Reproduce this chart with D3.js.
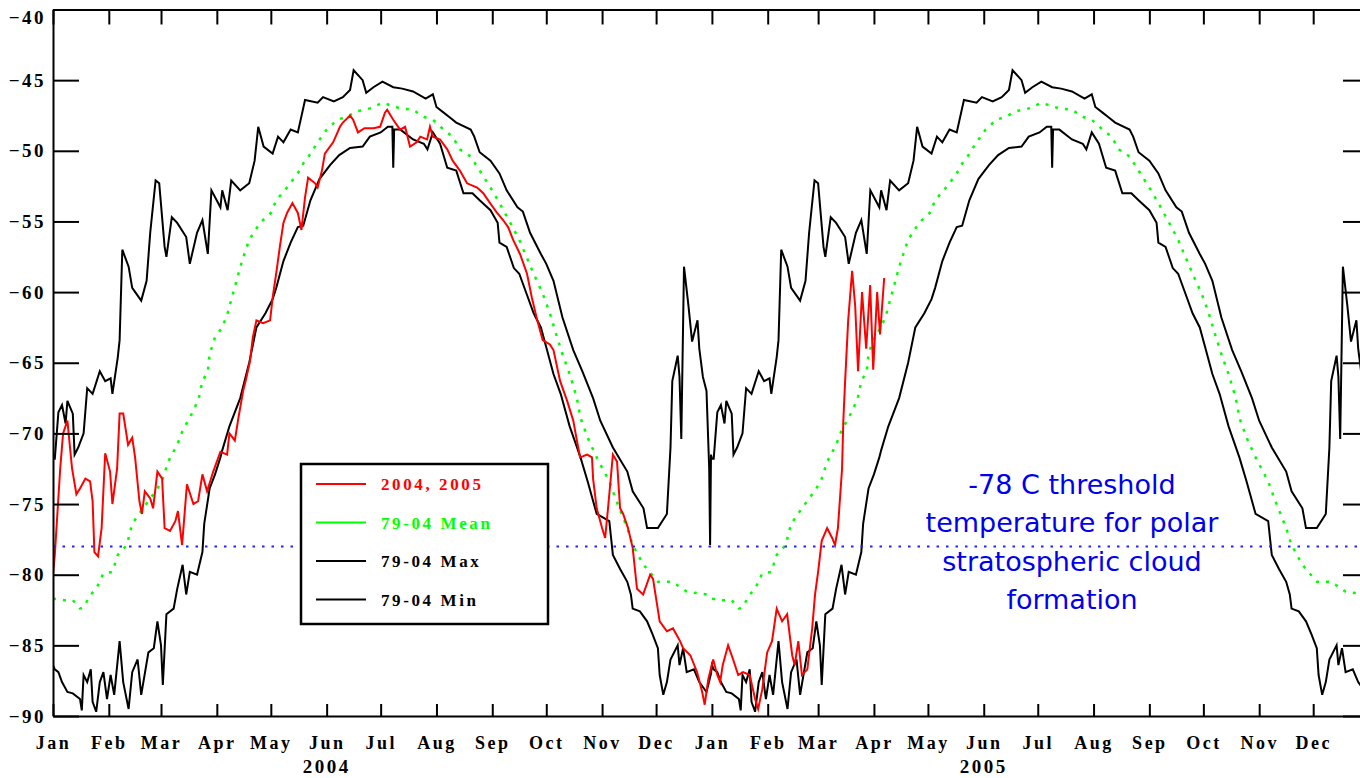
<!DOCTYPE html>
<html>
<head>
<meta charset="utf-8">
<script src="https://cdn.jsdelivr.net/npm/d3@7"></script>
<style>
body { margin: 0; background: #fff; }
svg { display: block; }
.serif { font-family: "Liberation Serif", "Times New Roman", serif; font-weight: bold; }
</style>
</head>
<body>
<svg id="chart" width="1360" height="778"></svg>
<script>
// 79-04 climatology, [day of year, deg C] (drawn once for each year)
var maxPts = [[0,-71.8],[1,-71.8],[3,-68.5],[5,-68],[7,-69.3],[8,-67.7],[11,-68.6],[12,-71.5],[14,-71],[17,-70],[19,-66.8],
  [22,-67.2],[26,-65.6],[29,-66.3],[32,-66.1],[33,-67.2],[36,-64.6],[37,-63.4],[38.5,-57],[42,-58.2],[44,-59.7],[49,-60.6],
  [52,-59.2],[54,-55.8],[57,-52.1],[59,-52.3],[62,-56.8],[63,-57.5],[66,-54.7],[69,-55.1],[74,-56.1],[76,-58],[80,-55.8],
  [83,-54.9],[86,-57.3],[88,-52.8],[93,-54],[94,-52.8],[97,-54.2],[99,-52.1],[104,-52.8],[109,-52.3],[112,-50.7],[114,-48.3],
  [117,-49.7],[122,-50.2],[125,-49],[128,-49.4],[132,-48.5],[136,-48.7],[140,-46.4],[147,-46.6],[150,-46.2],[156,-46.5],
  [161,-46.2],[165,-45.7],[167,-44.3],[172,-45],[174,-45.9],[178,-45.5],[183,-45.1],[189,-45.5],[194,-45.6],[200,-45.8],
  [207,-46.3],[211,-46],[213,-46.9],[217,-47.3],[221,-47.7],[224,-48],[232,-48.5],[234,-49],[237,-50.1],[243,-50.7],
  [248,-51.6],[252,-52.8],[258,-54],[261,-54.3],[265,-55.8],[271,-57.3],[274,-58],[278,-59.2],[283,-61.8],[289,-64.1],
  [294,-65.6],[300,-67.5],[304,-69.1],[311,-71],[319,-72.7],[322,-74.1],[328,-75.3],[330,-76.7],[336,-76.7],[341,-75.7],
  [343,-71],[344,-66.3],[347,-64.5],[348,-66],[349,-70.4],[350.5,-58.2],[353,-61],[355,-63.5],[358,-62],[359,-64],
  [361,-66],[363,-67],[364.5,-72.5],[365,-77.9],[365.5,-71.5]];

var minPts = [[0,-86.4],[1,-86.7],[3,-86.9],[5,-87.6],[8,-88.3],[11,-88.4],[15,-88.8],[16,-89.6],[17,-87.1],[19,-87.6],
  [21,-86.7],[22,-89],[24,-89.7],[26,-87.6],[28,-86.9],[30,-88.8],[32,-87.1],[34,-88.5],[37,-84.7],[39,-87.6],[42,-89.5],
  [44,-86.9],[47,-86],[49,-88.5],[53,-85.5],[56,-85.2],[58,-83.3],[60,-85],[61,-87.8],[63,-82.8],[67,-82.4],[69,-81],
  [72,-79.3],[74,-81.4],[76,-79.8],[80,-80],[83,-78.4],[84,-76.4],[87,-73.9],[90,-72.9],[93,-71.7],[94,-71.2],[98,-69.5],
  [104,-67.5],[109,-65],[113,-62.5],[118,-61.5],[122,-60.5],[124,-59.7],[128,-57.8],[132,-56.5],[136,-55.4],[139,-55.3],
  [143,-53.5],[148,-52],[154,-51],[159,-50.3],[165,-49.8],[172,-49.7],[176,-49],[182,-48.7],[186,-48.3],[188.5,-48.3],
  [189,-51.2],[189.5,-48.5],[193,-48.5],[200,-49.2],[206,-49.5],[208,-49.9],[211,-48.7],[215,-49.5],[219,-51.2],[224,-51.4],
  [228,-53],[233,-53],[237,-53.5],[243,-54.2],[247,-55.1],[248,-56.5],[252,-56.8],[256,-58.3],[259,-58.7],[263,-60.1],
  [267,-61.5],[271,-62.5],[274,-63.9],[278,-65.8],[282,-67.2],[287,-69.5],[293,-71.7],[297,-73.4],[302,-75.7],[309,-76.2],
  [311,-78.6],[315,-79.6],[319,-80.5],[321,-81.4],[322,-82.4],[326,-82.6],[330,-83.3],[333,-84.2],[336,-85.2],[337,-87.1],
  [339,-88.5],[341,-87.6],[343,-86],[347,-85],[348,-86.4],[350,-85.2],[352,-86.9],[356,-86.7],[359,-87.6],[363,-88.3],[365.5,-87]];

var meanPts = [[0,-81.7],[6,-81.8],[11,-81.8],[15,-82.4],[17,-82.3],[21,-81.4],[24,-81],[28,-79.9],[33,-79.8],[36,-78.6],
  [41,-77.9],[44,-76.4],[50,-75.3],[58,-73.9],[61,-73.2],[64,-72],[69,-70.8],[72,-69.8],[75,-69.1],[78,-68.4],[81,-67.5],
  [83,-66.3],[86,-65.6],[87,-64.4],[90,-63.2],[94,-62.5],[97,-61.5],[100,-60.1],[103,-58.7],[105,-57.8],[109,-56.3],
  [115,-55.1],[121,-54.4],[124,-53.5],[130,-52.6],[136,-51.6],[139,-50.9],[142,-50.4],[147,-49.4],[152,-48.5],[158,-47.8],
  [163,-47.6],[169,-47.2],[176,-47],[183,-46.6],[193,-47],[200,-47.1],[206,-47.6],[211,-47.8],[217,-48.5],[222,-49],
  [226,-49.9],[232,-50.4],[237,-51.4],[243,-52.6],[248,-53.7],[254,-55.1],[259,-56.3],[263,-57.5],[267,-58.7],[272,-60.1],
  [276,-61.5],[280,-63.2],[283,-64.4],[287,-65.8],[291,-67.5],[293,-68.9],[297,-70.3],[302,-71.7],[309,-73.4],[313,-74.8],
  [319,-76.7],[322,-77.9],[328,-79.3],[336,-80.5],[344,-80.5],[352,-81.2],[363,-81.4],[365.5,-81.6]];

// 2004-2005 observations, [days since 1 Jan 2004, deg C]
var obsPts = [[0,-80],[1,-78.6],[4,-72.5],[5.6,-70],[8,-69.1],[10.6,-72.5],[13,-74.3],[15,-73.9],[18,-73.2],[20.6,-73.4],
  [22,-74.8],[23,-78.4],[25,-78.7],[27,-76.7],[29,-71.4],[31.7,-72.7],[33,-75],[35.6,-72.5],[37,-68.6],[39,-68.6],
  [41.7,-70.8],[44,-70.3],[45.6,-71.7],[48,-74.8],[49.4,-75.7],[51,-74.1],[54,-74.6],[55.6,-75.3],[58,-72.7],[60.6,-73.2],
  [62,-76.7],[65,-76.9],[68,-76.2],[69.4,-75.5],[71.7,-77.9],[74.4,-73.6],[78,-75],[80.6,-74.8],[83,-72.9],[85.6,-74.1],
  [89,-72.7],[93,-71.3],[96.7,-71.5],[98,-70],[101,-70.5],[103,-68.9],[105.6,-67],[107,-66.3],[109.4,-64.9],[111,-63.2],
  [113,-62],[116.7,-62.2],[120.6,-62],[122,-60.4],[124.4,-58.3],[126,-56.8],[128,-55.1],[130,-54.4],[133,-53.7],[136,-54.4],
  [138,-55.6],[140,-53.3],[141.7,-51.9],[145.6,-52.3],[147,-52.6],[149.4,-51.4],[151,-50.2],[155.6,-49.4],[159.4,-48.3],
  [161,-48],[165,-47.5],[166.7,-47.8],[169.4,-48.7],[173,-48.4],[178,-48.4],[181.7,-48.3],[184.4,-47.3],[185.6,-47.1],
  [189,-47.8],[192.8,-48.5],[195.6,-48.3],[198.3,-49.7],[202,-49.4],[204,-49],[207.8,-49.2],[209.4,-48.3],[211,-49],
  [215,-49.2],[219,-49.9],[222,-50.7],[226,-51.4],[230,-52.3],[235.6,-52.6],[239,-53],[242.8,-53.7],[246.7,-54.4],
  [250,-54.9],[252.8,-55.4],[255.6,-56.3],[259.4,-57.3],[263.3,-58.7],[266,-60.4],[269,-62],[272,-63.4],[276,-63.7],
  [278,-64.1],[281.7,-66.3],[285.6,-67.7],[289,-69.1],[291,-70.5],[292.8,-71.7],[296.7,-71.5],[299.4,-71.7],[300,-73.2],
  [302,-75.3],[305,-76.7],[306.7,-77.4],[308.3,-75.3],[311,-71.5],[313.3,-72],[315,-75.3],[316.7,-75.7],[319.4,-76.7],
  [322,-78.1],[324.4,-81],[327.8,-81.4],[331.7,-80],[333.3,-80.3],[337,-83.3],[341,-84],[344.4,-83.8],[348.3,-84.7],
  [350,-85.2],[354,-85.7],[357.8,-86.9],[360.6,-88.3],[362,-89.2],[364,-87.4],[366.7,-86],[369,-87.1],[370.6,-87.6],
  [372,-86.4],[375,-85],[377.8,-86],[380.6,-87.1],[383.3,-86.9],[387,-87.1],[390,-88.8],[391.7,-89.5],[394,-88.1],
  [396.7,-85.5],[399.4,-84.7],[402,-82.4],[405,-83.3],[407.8,-82.8],[410.6,-85.7],[412,-86.4],[414,-84.7],[416,-87.1],
  [419,-86.7],[421.7,-83.8],[423.3,-81.4],[425,-79.8],[427,-77.6],[430,-76.7],[432.8,-77.4],[434.4,-77.9],[436,-76.7],
  [438.3,-72.5],[439,-69.1],[440,-66.3],[441.7,-62],[443.9,-58.5],[445.6,-61],[447.2,-65.6],[449.4,-60],[451.7,-64],
  [453.9,-59.5],[455.6,-65.5],[457.8,-60],[459.4,-63],[461.7,-59]];

var yTicks = [-40, -45, -50, -55, -60, -65, -70, -75, -80, -85, -90];
var years = [2004, 2005];
var threshold = -78;
var legendNames = ["2004, 2005", "79-04 Mean", "79-04 Max", "79-04 Min"];
var legendColors = ["#ff0000", "#00ff00", "#000000", "#000000"];
var noteLines = ["-78 C threshold", "temperature for polar", "stratospheric cloud", "formation"];

var svg = d3.select("#chart");
// plot box (right edge lies just off the page, as in the original)
var plotL = 53, plotR = 1369, plotT = 9.5, plotB = 716;
var t0 = Date.UTC(2004, 0, 1), t1 = Date.UTC(2006, 0, 1);
var dayMs = 864e5;

var x = d3.scaleUtc().domain([t0, t1]).range([plotL, plotR]);
var y = d3.scaleLinear().domain([-40, -90]).range([plotT, plotB]);
var months = d3.utcMonth.range(new Date(t0), new Date(t1));

svg.append("clipPath").attr("id", "plot")
  .append("rect").attr("x", plotL).attr("y", plotT).attr("width", plotR - plotL).attr("height", plotB - plotT);

var line = d3.line()
  .x(function(d) { return x(d[0]); })
  .y(function(d) { return y(d[1]); });

// climatology repeated for each year
function twoYears(pts) {
  var out = [];
  years.forEach(function(yr) {
    var start = Date.UTC(yr, 0, 1);
    pts.forEach(function(p) {
      var t = start + p[0] * dayMs;
      if (t <= t1) out.push([t, p[1]]);
    });
  });
  return out;
}

var g = svg.append("g").attr("clip-path", "url(#plot)");

[maxPts, minPts].forEach(function(pts) {
  g.append("path").attr("d", line(twoYears(pts)))
    .attr("fill", "none").attr("stroke", "#000").attr("stroke-width", 2);
});

g.append("path").attr("d", line(twoYears(meanPts)))
  .attr("fill", "none").attr("stroke", "#00ff00").attr("stroke-width", 2.5)
  .attr("stroke-dasharray", "3,7");

g.append("path").attr("d", line(obsPts.map(function(p) { return [t0 + p[0] * dayMs, p[1]]; })))
  .attr("fill", "none").attr("stroke", "#ff0000").attr("stroke-width", 2);

g.append("line")
  .attr("x1", plotL).attr("x2", plotR).attr("y1", y(threshold)).attr("y2", y(threshold))
  .attr("stroke", "#2222ff").attr("stroke-width", 2).attr("stroke-dasharray", "2.5,7");

// axes
function styleAxis(sel) {
  sel.selectAll("path, line").attr("stroke", "#000").attr("stroke-width", 2);
  sel.selectAll("text").attr("class", "serif").attr("fill", "#000");
}

svg.append("g").attr("transform", "translate(0," + plotB + ")")
  .call(d3.axisBottom(x).tickValues(months).tickFormat(d3.utcFormat("%b"))
    .tickSizeInner(-12).tickSizeOuter(0).tickPadding(20))
  .call(styleAxis)
  .selectAll("text").style("font-size", "18px").style("letter-spacing", "2.5px");

svg.append("g").attr("transform", "translate(0," + plotT + ")")
  .call(d3.axisTop(x).tickValues(months).tickFormat("").tickSizeInner(-15).tickSizeOuter(0))
  .call(styleAxis);

svg.append("g").attr("transform", "translate(" + plotL + ",0)")
  .call(d3.axisLeft(y).tickValues(yTicks).tickFormat(d3.format("d"))
    .tickSizeInner(-26).tickSizeOuter(0).tickPadding(7))
  .call(styleAxis)
  .selectAll("text").style("font-size", "19px").style("letter-spacing", "2.5px")
  .attr("dy", function(d) { return d === -40 ? "0.75em" : "0.32em"; });

svg.append("g").attr("transform", "translate(" + plotR + ",0)")
  .call(d3.axisRight(y).tickValues(yTicks).tickFormat("").tickSizeInner(-26).tickSizeOuter(0))
  .call(styleAxis);

svg.selectAll(".year").data(years).enter().append("text")
  .attr("class", "serif year")
  .attr("x", function(d) { return x(Date.UTC(d, 5, 1)); })
  .attr("y", 773)
  .attr("text-anchor", "middle")
  .style("font-size", "19px").style("letter-spacing", "2.5px")
  .text(function(d) { return d; });

// legend
var lg = svg.append("g");
lg.append("rect").attr("x", 301).attr("y", 464).attr("width", 247).attr("height", 160)
  .attr("fill", "#fff").attr("stroke", "#000").attr("stroke-width", 2.5);
legendNames.forEach(function(name, i) {
  var ly = 484 + i * 38.5;
  lg.append("line").attr("x1", 316).attr("x2", 366).attr("y1", ly).attr("y2", ly)
    .attr("stroke", legendColors[i]).attr("stroke-width", 2);
  lg.append("text").attr("class", "serif").attr("x", 381).attr("y", ly + 6)
    .attr("fill", legendColors[i]).style("font-size", "17px").style("letter-spacing", "2.6px")
    .text(name);
});

// note
svg.append("g").selectAll("text").data(noteLines).enter().append("text")
  .attr("x", 1072).attr("y", function(d, i) { return 494 + i * 38.3; })
  .attr("text-anchor", "middle")
  .attr("fill", "#0000ee")
  .style("font-family", "'DejaVu Sans', Verdana, sans-serif").style("font-size", "27px")
  .text(function(d) { return d; });
</script>
</body>
</html>
